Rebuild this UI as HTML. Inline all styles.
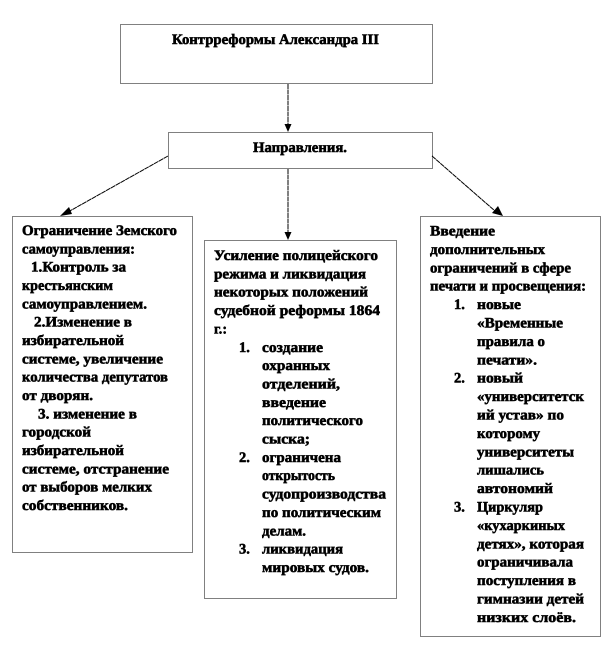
<!DOCTYPE html>
<html lang="ru"><head><meta charset="utf-8"><title>Контрреформы Александра III</title>
<style>
html,body{margin:0;padding:0;background:#fff}
svg{display:block}
text{font-family:"Liberation Serif","Noto Serif CJK SC",serif;font-weight:bold;font-size:14.5px;fill:#000;stroke:#000;stroke-width:.55px;text-rendering:geometricPrecision}
.b{fill:#fff;stroke:#000;stroke-width:1;stroke-dasharray:1 1;shape-rendering:crispEdges}
.l{stroke:#000;stroke-width:1;fill:none;stroke-dasharray:5 .5}
</style></head><body>
<svg width="612" height="660" viewBox="0 0 612 660" xmlns="http://www.w3.org/2000/svg">
<rect width="612" height="660" fill="#fff"/>
<rect class="b" x="120.5" y="24.5" width="312" height="59"/>
<rect class="b" x="168.5" y="132.5" width="264" height="36"/>
<rect class="b" x="12.5" y="216.5" width="180" height="336"/>
<rect class="b" x="204.5" y="240.5" width="192" height="358"/>
<rect class="b" x="420.5" y="216.5" width="180" height="420"/>

<line class="l" x1="288" y1="84" x2="288" y2="126"/>
<polygon points="284.5,124 291.5,124 288,132"/>
<line class="l" x1="288" y1="169" x2="288" y2="233"/>
<polygon points="284.5,232 291.5,232 288,240"/>
<line class="l" x1="168" y1="156" x2="68" y2="212"/>
<polygon points="60,216 69,207 72,214"/>
<line class="l" x1="432" y1="156" x2="495" y2="211"/>
<polygon points="503,216 492,213 498,206"/>

<text x="172" y="44" textLength="207" lengthAdjust="spacingAndGlyphs">Контрреформы Александра III</text>
<text x="253" y="152" textLength="94" lengthAdjust="spacingAndGlyphs">Направления.</text>

<text x="22" y="235" textLength="155" lengthAdjust="spacingAndGlyphs">Ограничение Земского</text>
<text x="22" y="253.3" textLength="113" lengthAdjust="spacingAndGlyphs">самоуправления:</text>
<text x="31" y="271.7" textLength="95" lengthAdjust="spacingAndGlyphs">1.Контроль за</text>
<text x="22" y="290" textLength="91" lengthAdjust="spacingAndGlyphs">крестьянским</text>
<text x="22" y="308.3" textLength="125" lengthAdjust="spacingAndGlyphs">самоуправлением.</text>
<text x="34" y="326.7" textLength="98" lengthAdjust="spacingAndGlyphs">2.Изменение в</text>
<text x="22" y="345" textLength="102" lengthAdjust="spacingAndGlyphs">избирательной</text>
<text x="22" y="363.3" textLength="141" lengthAdjust="spacingAndGlyphs">системе, увеличение</text>
<text x="22" y="381.7" textLength="146" lengthAdjust="spacingAndGlyphs">количества депутатов</text>
<text x="22" y="400" textLength="71" lengthAdjust="spacingAndGlyphs">от дворян.</text>
<text x="38" y="418.3" textLength="99" lengthAdjust="spacingAndGlyphs">3. изменение в</text>
<text x="22" y="436.7" textLength="69" lengthAdjust="spacingAndGlyphs">городской</text>
<text x="22" y="455" textLength="102" lengthAdjust="spacingAndGlyphs">избирательной</text>
<text x="22" y="473.3" textLength="147" lengthAdjust="spacingAndGlyphs">системе, отстранение</text>
<text x="22" y="491.7" textLength="130" lengthAdjust="spacingAndGlyphs">от выборов мелких</text>
<text x="22" y="510" textLength="106" lengthAdjust="spacingAndGlyphs">собственников.</text>

<text x="214" y="260" textLength="164" lengthAdjust="spacingAndGlyphs">Усиление полицейского</text>
<text x="214" y="278.4" textLength="152" lengthAdjust="spacingAndGlyphs">режима и ликвидация</text>
<text x="214" y="296.7" textLength="154" lengthAdjust="spacingAndGlyphs">некоторых положений</text>
<text x="214" y="315" textLength="166" lengthAdjust="spacingAndGlyphs">судебной реформы 1864</text>
<text x="214" y="333.4" textLength="13" lengthAdjust="spacingAndGlyphs">г.:</text>
<text x="239" y="351.8">1.</text><text x="262" y="351.8" textLength="61" lengthAdjust="spacingAndGlyphs">создание</text>
<text x="262" y="370.1" textLength="68" lengthAdjust="spacingAndGlyphs">охранных</text>
<text x="262" y="388.5" textLength="78" lengthAdjust="spacingAndGlyphs">отделений,</text>
<text x="262" y="406.8" textLength="64" lengthAdjust="spacingAndGlyphs">введение</text>
<text x="262" y="425.2" textLength="101" lengthAdjust="spacingAndGlyphs">политического</text>
<text x="262" y="443.5" textLength="48" lengthAdjust="spacingAndGlyphs">сыска;</text>
<text x="239" y="461.9">2.</text><text x="262" y="461.9" textLength="79" lengthAdjust="spacingAndGlyphs">ограничена</text>
<text x="262" y="480.2" textLength="73" lengthAdjust="spacingAndGlyphs">открытость</text>
<text x="262" y="498.6" textLength="124" lengthAdjust="spacingAndGlyphs">судопроизводства</text>
<text x="262" y="516.9" textLength="119" lengthAdjust="spacingAndGlyphs">по политическим</text>
<text x="262" y="535.3" textLength="44" lengthAdjust="spacingAndGlyphs">делам.</text>
<text x="239" y="553.6">3.</text><text x="262" y="553.6" textLength="81" lengthAdjust="spacingAndGlyphs">ликвидация</text>
<text x="262" y="572" textLength="107" lengthAdjust="spacingAndGlyphs">мировых судов.</text>

<text x="430" y="235.5" textLength="65" lengthAdjust="spacingAndGlyphs">Введение</text>
<text x="430" y="253.9" textLength="115" lengthAdjust="spacingAndGlyphs">дополнительных</text>
<text x="430" y="272.3" textLength="141" lengthAdjust="spacingAndGlyphs">ограничений в сфере</text>
<text x="430" y="290.7" textLength="156" lengthAdjust="spacingAndGlyphs">печати и просвещения:</text>
<text x="454" y="309.1">1.</text><text x="477" y="309.1" textLength="44" lengthAdjust="spacingAndGlyphs">новые</text>
<text x="477" y="327.5" textLength="86" lengthAdjust="spacingAndGlyphs">«Временные</text>
<text x="477" y="345.9" textLength="68" lengthAdjust="spacingAndGlyphs">правила о</text>
<text x="477" y="364.3" textLength="60" lengthAdjust="spacingAndGlyphs">печати».</text>
<text x="454" y="382.7">2.</text><text x="477" y="382.7" textLength="46" lengthAdjust="spacingAndGlyphs">новый</text>
<text x="477" y="401.1" textLength="107" lengthAdjust="spacingAndGlyphs">«университетск</text>
<text x="477" y="419.5" textLength="87" lengthAdjust="spacingAndGlyphs">ий устав» по</text>
<text x="477" y="437.9" textLength="63" lengthAdjust="spacingAndGlyphs">которому</text>
<text x="477" y="456.3" textLength="97" lengthAdjust="spacingAndGlyphs">университеты</text>
<text x="477" y="474.7" textLength="67" lengthAdjust="spacingAndGlyphs">лишались</text>
<text x="477" y="493.1" textLength="76" lengthAdjust="spacingAndGlyphs">автономий</text>
<text x="454" y="511.5">3.</text><text x="477" y="511.5" textLength="66" lengthAdjust="spacingAndGlyphs">Циркуляр</text>
<text x="477" y="529.9" textLength="88" lengthAdjust="spacingAndGlyphs">«кухаркиных</text>
<text x="477" y="548.3" textLength="107" lengthAdjust="spacingAndGlyphs">детях», которая</text>
<text x="477" y="566.7" textLength="96" lengthAdjust="spacingAndGlyphs">ограничивала</text>
<text x="477" y="585.1" textLength="99" lengthAdjust="spacingAndGlyphs">поступления в</text>
<text x="477" y="603.5" textLength="107" lengthAdjust="spacingAndGlyphs">гимназии детей</text>
<text x="477" y="621.9" textLength="99" lengthAdjust="spacingAndGlyphs">низких слоёв.</text>
</svg>
</body></html>
